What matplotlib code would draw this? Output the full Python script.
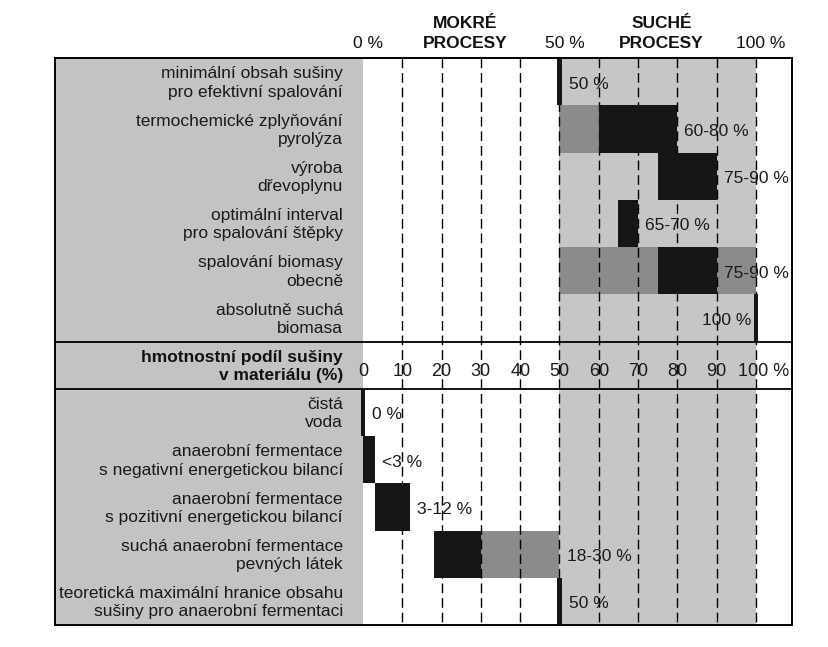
import matplotlib
matplotlib.use("Agg")
import matplotlib.pyplot as plt
from matplotlib import font_manager
import numpy as np

plt.rcParams['font.family'] = ['Liberation Sans', 'DejaVu Sans']

# ---------------- data ----------------
top_labels = [
    "minimální obsah sušiny\npro efektivní spalování",
    "termochemické zplyňování\npyrolýza",
    "výroba\ndřevoplynu",
    "optimální interval\npro spalování štěpky",
    "spalování biomasy\nobecně",
    "absolutně suchá\nbiomasa",
]
top_core_lo = [50, 60, 75, 65, 75, 100]
top_core_hi = [50, 80, 90, 70, 90, 100]
top_wide_lo = [np.nan, 50, np.nan, np.nan, 50, np.nan]
top_wide_hi = [np.nan, 60, np.nan, np.nan, 100, np.nan]
top_texts = ["50 %", "60-80 %", "75-90 %", "65-70 %", "75-90 %", "100 %"]

bottom_labels = [
    "čistá\nvoda",
    "anaerobní fermentace\ns negativní energetickou bilancí",
    "anaerobní fermentace\ns pozitivní energetickou bilancí",
    "suchá anaerobní fermentace\npevných látek",
    "teoretická maximální hranice obsahu\nsušiny pro anaerobní fermentaci",
]
bottom_core_lo = [0, 0, 3, 18, 50]
bottom_core_hi = [0, 3, 12, 30, 50]
bottom_wide_lo = [np.nan, np.nan, np.nan, 30, np.nan]
bottom_wide_hi = [np.nan, np.nan, np.nan, 50, np.nan]
bottom_texts = ["0 %", "<3 %", "3-12 %", "18-30 %", "50 %"]

scale_title = "hmotnostní podíl sušiny\nv materiálu (%)"
scale_ticks = [0, 10, 20, 30, 40, 50, 60, 70, 80, 90, 100]
header_pcts = [0, 50, 100]
header_groups = [("MOKRÉ", "PROCESY"), ("SUCHÉ", "PROCESY")]

# ---------------- style ----------------
LIGHT = "#c6c6c6"
PANEL = "#c3c3c3"
MID = "#8b8b8b"
DARK = "#161616"

installed = {f.name for f in font_manager.fontManager.ttflist}
if 'Liberation Sans Narrow' in installed:
    NUMFONT = ['Liberation Sans Narrow', 'DejaVu Sans']
    BAR_FS, TICK_FS = 14, 15.5
else:
    NUMFONT = ['Liberation Sans', 'DejaVu Sans']
    BAR_FS, TICK_FS = 12.5, 13

W, H = 829, 647
fig = plt.figure(figsize=(W / 100, H / 100), dpi=100)
fig.patch.set_facecolor("white")
x0px, x1px, y0px, y1px = 55, 792, 58, 625
ax = fig.add_axes([x0px / W, 1 - y1px / H, (x1px - x0px) / W, (y1px - y0px) / H])
zero_px, px_per_unit = 363, 3.93
xmin = (x0px - zero_px) / px_per_unit
xmax = (x1px - zero_px) / px_per_unit
ax.set_xlim(xmin, xmax)
ax.set_ylim(12, 0)
ax.set_xticks([])
ax.set_yticks([])
for s in ax.spines.values():
    s.set_linewidth(1.4)
    s.set_color("black")
    s.set_zorder(10)

# backgrounds
ax.axvspan(xmin, 0, color=PANEL, lw=0, zorder=0)
ax.axvspan(50, 100, color=LIGHT, lw=0, zorder=0)

# dashed grid
ax.vlines(scale_ticks[1:], 0, 12, colors="black", linestyles=(0, (7, 3.5)), lw=1.0, zorder=3)
ax.hlines([6, 7], xmin, xmax, colors="black", lw=1.3, zorder=5)

THIN = 1.2
LABEL_FS = 12.5


def draw_rows(row0, labels, lo, hi, wlo, whi, texts):
    n = len(labels)
    ys = np.arange(n) + row0
    lo = np.asarray(lo, float)
    hi = np.asarray(hi, float)
    wlo = np.asarray(wlo, float)
    whi = np.asarray(whi, float)
    m = ~np.isnan(wlo)
    ax.barh(ys[m], whi[m] - wlo[m], left=wlo[m], height=1.0, align="edge",
            color=MID, lw=0, zorder=2)
    thin = lo == hi
    left = np.where(thin, lo - THIN / 2, lo)
    width = np.where(thin, THIN, hi - lo)
    ax.barh(ys, width, left=left, height=1.0, align="edge", color=DARK, lw=0, zorder=4)
    for y, lab, l, w, t, wh in zip(ys, labels, left, width, texts, whi):
        ax.text(-5.1, y + 0.53, lab, ha="right", va="center", ma="right",
                fontsize=LABEL_FS, linespacing=1.28, color="#1a1a1a", zorder=6)
        end = l + w
        if not np.isnan(wh) and wh < 100:
            end = max(end, wh)
        if l >= 99:
            ax.text(l - 0.6, y + 0.65, t, ha="right", va="baseline",
                    fontsize=BAR_FS, family=NUMFONT, color="#1a1a1a", zorder=6)
        else:
            ax.text(end + 1.8, y + 0.65, t, ha="left", va="baseline",
                    fontsize=BAR_FS, family=NUMFONT, color="#1a1a1a", zorder=6)


draw_rows(0, top_labels, top_core_lo, top_core_hi, top_wide_lo, top_wide_hi, top_texts)
draw_rows(7, bottom_labels, bottom_core_lo, bottom_core_hi, bottom_wide_lo, bottom_wide_hi, bottom_texts)

# scale row
ax.text(-5.1, 6.53, scale_title, ha="right", va="center", ma="right",
        fontsize=LABEL_FS, linespacing=1.28, fontweight="bold", color="#111111", zorder=6)
for t in scale_ticks:
    if t == scale_ticks[-1]:
        ax.text(t - 4.6, 6.73, f"{t} %", ha="left", va="baseline",
                fontsize=TICK_FS, family=NUMFONT, color="#1a1a1a", zorder=6)
    else:
        ax.text(t, 6.73, f"{t}", ha="center", va="baseline",
                fontsize=TICK_FS, family=NUMFONT, color="#1a1a1a", zorder=6)

# header
for p in header_pcts:
    ax.text(p + 1.3, -0.21, f"{p} %", ha="center", va="baseline",
            fontsize=12.5, color="#111111", clip_on=False)
for (a, b), (lo, hi) in zip(header_groups, zip(header_pcts[:-1], header_pcts[1:])):
    cx = (lo + hi) / 2 + 1
    ax.text(cx, -0.635, a, ha="center", va="baseline", fontsize=12.5,
            fontweight="bold", color="#111111", clip_on=False)
    ax.text(cx, -0.21, b, ha="center", va="baseline", fontsize=12.5,
            fontweight="bold", color="#111111", clip_on=False)

fig.savefig("out.png", dpi=100, facecolor="white")
